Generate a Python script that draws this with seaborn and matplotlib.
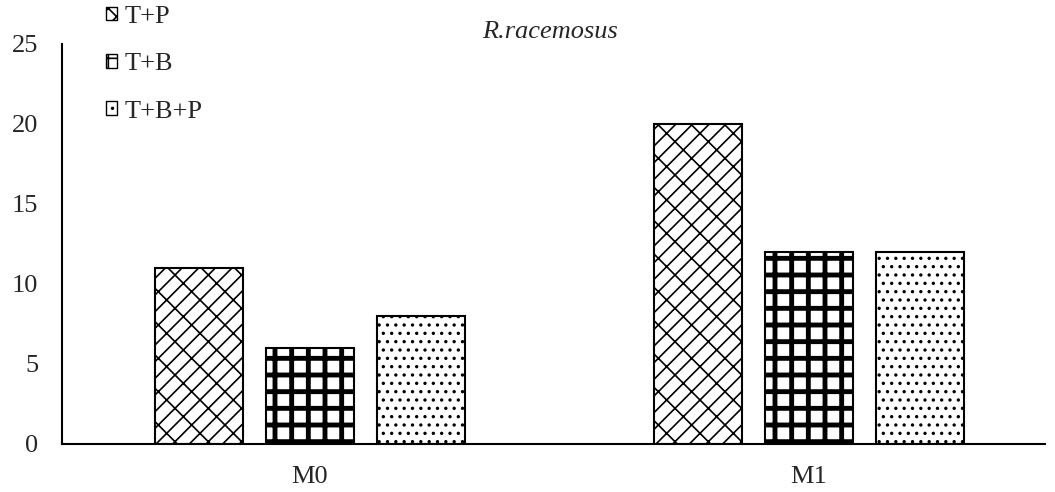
import pandas as pd
import matplotlib
matplotlib.use("Agg")
import matplotlib.pyplot as plt
import seaborn as sns
from matplotlib.patches import Patch

# data
groups = ["M0", "M1"]
treatments = ["T+P", "T+B", "T+B+P"]
values_m0 = [11, 6, 8]
values_m1 = [20, 12, 12]
hatches = ["//\\", "+", ".."]
hatch_lws = [1.2, 3.5, 1.2]

rows = []
for t, v in zip(treatments, values_m0):
    rows.append(("M0", t, v))
for t, v in zip(treatments, values_m1):
    rows.append(("M1", t, v))
df = pd.DataFrame(rows, columns=["grupo", "trat", "valor"])

sns.set_style("white")
plt.rcParams['font.family'] = ['Liberation Serif', 'DejaVu Serif']
plt.rcParams['hatch.linewidth'] = 1.2

fig = plt.figure(figsize=(10.55, 4.92), dpi=100)
ax = fig.add_axes([0.0588, 0.0976, 0.9317, 0.813])

sns.barplot(data=df, x="grupo", y="valor", hue="trat", order=groups, hue_order=treatments,
            width=0.667, gap=0.21, palette=["white"] * 3,
            edgecolor="black", linewidth=1.5, legend=False, ax=ax)

def estilo(p, h, lw):
    p.set_hatch(h)
    p.set_facecolor("white")
    p.set_edgecolor("black")
    if hasattr(p, "set_hatch_linewidth"):
        p.set_hatch_linewidth(lw)

for cont, h, lw in zip(ax.containers, hatches, hatch_lws):
    for bar in cont:
        estilo(bar, h, lw)

ax.set_xlim(-0.497, 1.473)
ax.set_ylim(0, 25)
ax.set_yticks([0, 5, 10, 15, 20, 25])
ax.set_xlabel("")
ax.set_ylabel("")
ax.tick_params(axis="both", labelsize=19, length=0)
ax.tick_params(axis="y", pad=17)
ax.tick_params(axis="x", pad=16)
sns.despine(ax=ax, top=True, right=True)
for s in ["left", "bottom"]:
    ax.spines[s].set_color("black")
    ax.spines[s].set_linewidth(1.5)

fig.text(0.521, 1 - 38 / 492, "R.racemosus", fontsize=19, style="italic", ha="center", va="baseline")

handles = []
for t, h, lw in zip(treatments, hatches, hatch_lws):
    p = Patch(label=t)
    estilo(p, h, lw)
    handles.append(p)
fig.legend(handles=handles, loc="upper left", bbox_to_anchor=(106 / 1055, 0.988), frameon=False,
           fontsize=19, handlelength=0.42, handleheight=0.42, handletextpad=0.3, labelspacing=0.96,
           borderpad=0, borderaxespad=0)

fig.savefig("out.png", dpi=100)
